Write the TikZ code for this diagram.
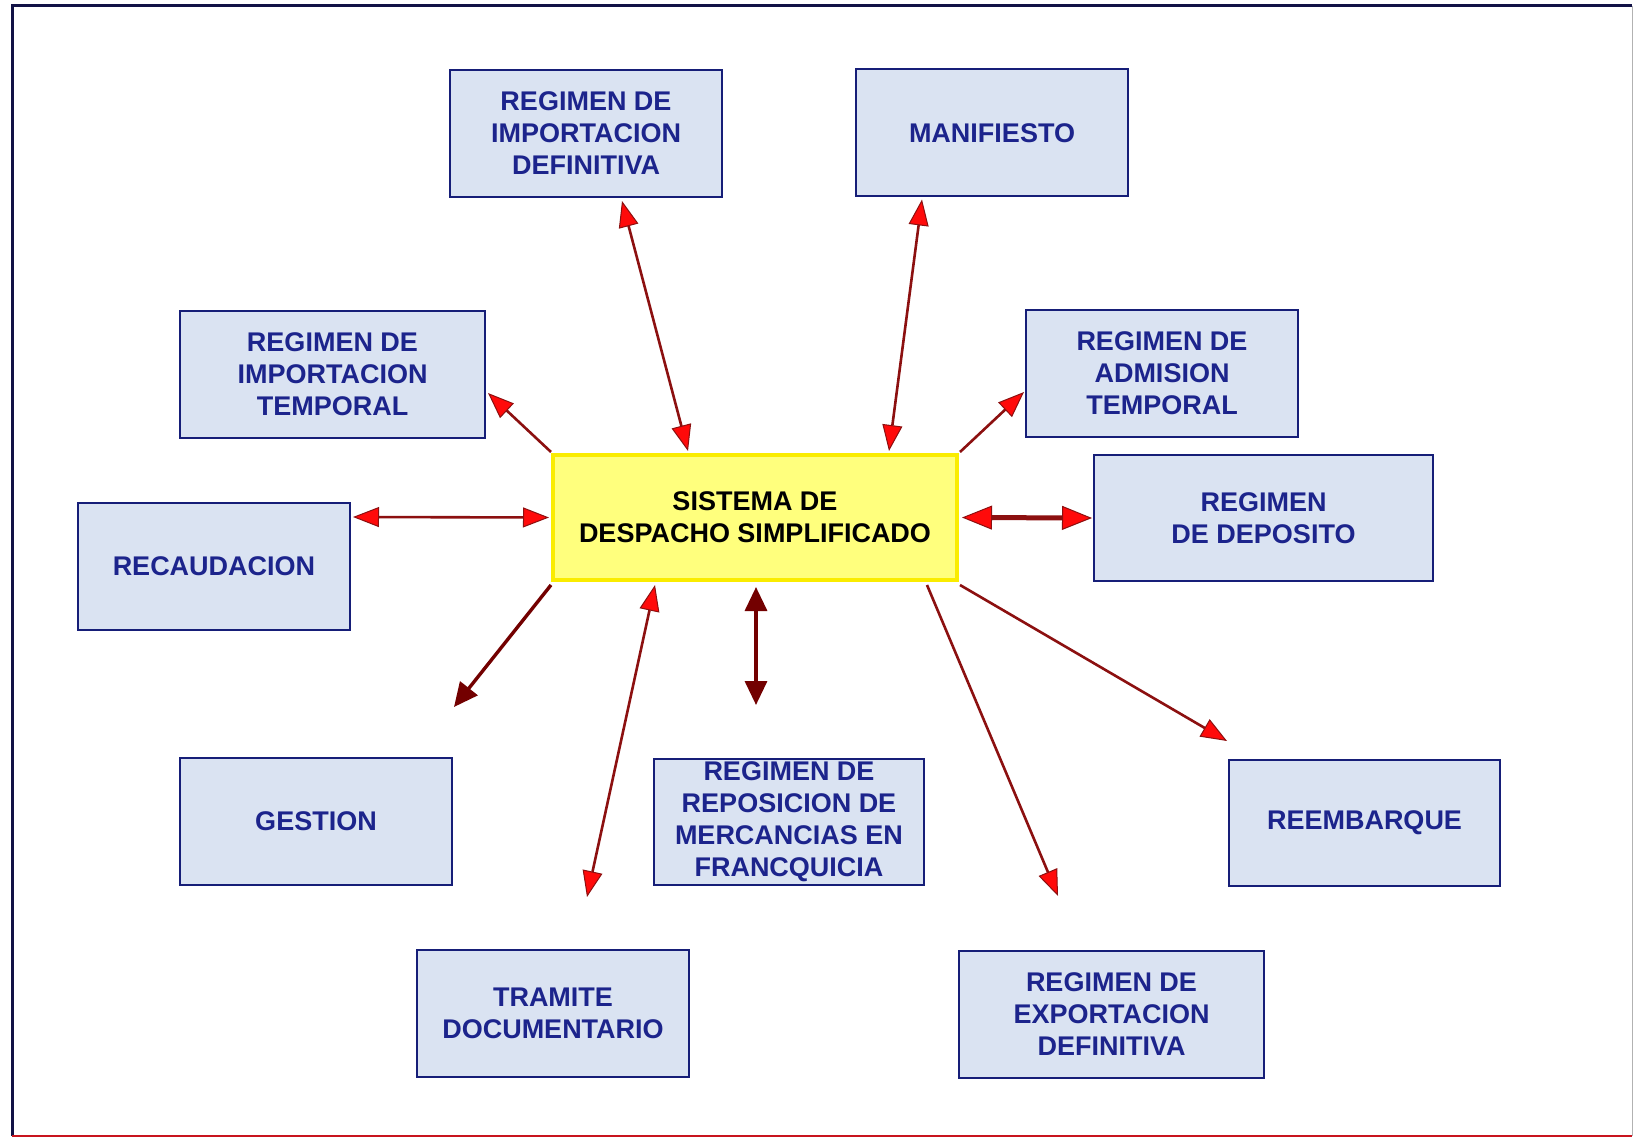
\documentclass[tikz,border=0pt]{standalone}
\usepackage{fontspec}
\setmainfont{Liberation Sans}
\usetikzlibrary{arrows.meta,calc}
\definecolor{navy}{RGB}{22,30,120}
\definecolor{boxfill}{RGB}{218,227,242}
\definecolor{boxtext}{RGB}{28,36,140}
\definecolor{cfill}{RGB}{255,255,125}
\definecolor{cdraw}{RGB}{250,236,0}
\definecolor{darkred}{RGB}{140,16,16}
\definecolor{maroon}{RGB}{115,0,0}
\definecolor{headred}{RGB}{255,10,10}
\definecolor{framenavy}{RGB}{18,18,70}
\definecolor{framered}{RGB}{200,20,30}
\tikzset{
  regbox/.style={draw=navy, line width=2pt, fill=boxfill, text=boxtext,
    font=\fontsize{27}{32}\selectfont\bfseries, align=center, inner sep=0pt,
    minimum width=272pt, minimum height=127pt},
  centerbox/.style={draw=cdraw, line width=4pt, fill=cfill, text=black,
    font=\fontsize{27}{32}\selectfont\bfseries, align=center, inner sep=0pt,
    minimum width=404pt, minimum height=125pt},
  link/.style={draw=darkred, line width=2.6pt},
  dlink/.style={link, {Triangle[length=26pt, width=20pt, fill=headred, color=darkred, line width=1pt]}-{Triangle[length=26pt, width=20pt, fill=headred, color=darkred, line width=1pt]}},
  slink/.style={link, -{Triangle[length=26pt, width=20pt, fill=headred, color=darkred, line width=1pt]}},
  mlink/.style={draw=maroon, line width=3.4pt},
}
\begin{document}
\begin{tikzpicture}[x=1pt,y=-1pt]
\useasboundingbox (0,0) rectangle (1635,1139);
\fill[white] (0,0) rectangle (1635,1139);
% frame
\draw[framenavy, line width=3pt] (12,1136) -- (12,6) -- (1632,6);
\draw[gray!60, line width=1pt] (1632,6) -- (1632,1136);
\draw[framered, line width=2.5pt] (12,1136) -- (1632,1136);

% nodes
\node[centerbox] (c) at (755,517.5) {SISTEMA DE\\DESPACHO SIMPLIFICADO};
\node[regbox] (a) at (586,133.5) {REGIMEN DE\\IMPORTACION\\DEFINITIVA};
\node[regbox] (m) at (992,133) {MANIFIESTO};
\node[regbox, minimum width=305pt] (b) at (332.5,374.5) {REGIMEN DE\\IMPORTACION\\TEMPORAL};
\node[regbox] (d) at (1162,373.5) {REGIMEN DE\\ADMISION\\TEMPORAL};
\node[regbox] (r) at (214,566.5) {RECAUDACION};
\node[regbox, minimum width=339pt, minimum height=126pt] (e) at (1263.5,518) {REGIMEN\\DE DEPOSITO};
\node[regbox] (g) at (316,821.5) {GESTION};
\node[regbox, minimum width=270pt, minimum height=126pt] (p) at (789,822) {REGIMEN DE\\REPOSICION DE\\MERCANCIAS EN\\FRANCQUICIA};
\node[regbox, minimum width=271pt, minimum height=126pt] (q) at (1364.5,823) {REEMBARQUE};
\node[regbox] (t) at (553,1013.5) {TRAMITE\\DOCUMENTARIO};
\node[regbox, minimum width=305pt] (x) at (1111.5,1014.5) {REGIMEN DE\\EXPORTACION\\DEFINITIVA};

% connectors
\draw[dlink] ($(a.south)+(36,3)$) -- ($(c.north)+(-67,-2)$);
\draw[dlink] ($(m.south)+(-70,2)$) -- ($(c.north)+(134,-2)$);
\draw[slink] ($(c.north west)+(0,-1)$) -- ($(b.east)+(2,18.5)$);
\draw[slink] ($(c.north east)+(1,-1)$) -- ($(d.west)+(-1,18.5)$);
\draw[dlink] ($(r.east)+(2,-49.5)$) -- ($(c.west)+(-2,0)$);
\draw[draw=darkred, line width=5pt,
  {Triangle[length=30pt, width=24pt, fill=headred, color=darkred, line width=1pt]}-{Triangle[length=30pt, width=24pt, fill=headred, color=darkred, line width=1pt]}]
  ($(c.east)+(3,0)$) -- ($(e.west)+(-1,0)$);
\draw[mlink, -{Triangle[length=24pt, width=22pt, fill=maroon, color=maroon]}]
  ($(c.south west)+(0,3)$) -- ($(g.north east)+(1,-50)$);
\draw[dlink] ($(c.south)+(-100,3)$) -- ($(t.north)+(34,-52)$);
\draw[mlink, {Triangle[length=24pt, width=22pt, fill=maroon, color=maroon]}-{Triangle[length=24pt, width=22pt, fill=maroon, color=maroon]}]
  ($(c.south)+(1,5)$) -- ($(p.north)+(-33,-53)$);
\draw[slink] ($(c.south east)+(-32,3)$) -- ($(x.north)+(-53.5,-54)$);
\draw[slink] ($(c.south east)+(1,3)$) -- ($(q.north west)+(-1,-18)$);
\end{tikzpicture}
\end{document}
